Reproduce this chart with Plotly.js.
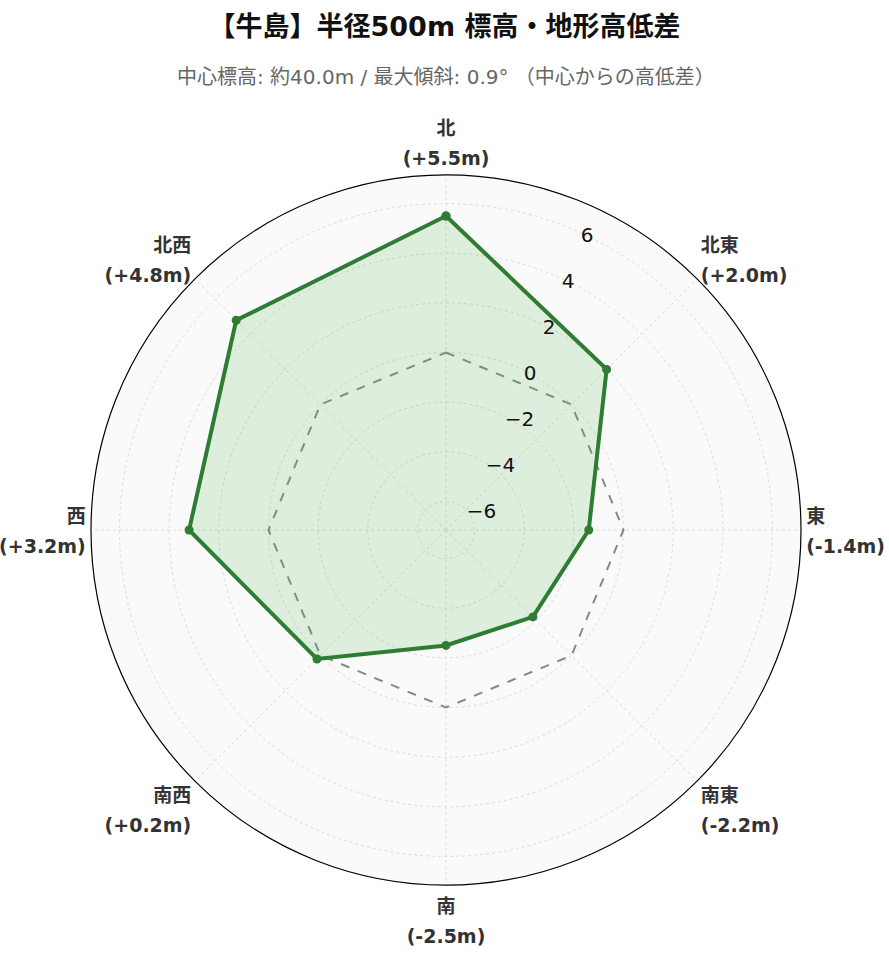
<!DOCTYPE html>
<html><head><meta charset="utf-8">
<script src="https://cdn.plot.ly/plotly-3.0.1.min.js"></script>
<style>body{margin:0;background:#fff}</style>
</head><body>
<div id="chart" style="width:889px;height:962px"></div>
<script>
const directions = ["北","北東","東","南東","南","南西","西","北西"];
const heightDiffs = [5.5, 2.0, -1.4, -2.2, -2.5, 0.2, 3.2, 4.8];
const diffLabels = ["+5.5m","+2.0m","-1.4m","-2.2m","-2.5m","+0.2m","+3.2m","+4.8m"];
const referenceLevel = [0,0,0,0,0,0,0,0];
const radialTicks = [-6,-4,-2,0,2,4,6];
const radialRange = [-7.15, 7.15];

const FONT = "DejaVu Sans, Noto Sans CJK JP, sans-serif";
const closedDirs = directions.concat([directions[0]]);
const S = "<span style='font-size:19px'>";
const tickText = directions.map((d,i)=>S+"<b>"+d+"</b></span><br>"+S+"<b>("+diffLabels[i]+")</b></span>");

const traces = [
  {
    type:"scatterpolar",
    r: referenceLevel.concat([referenceLevel[0]]),
    theta: closedDirs,
    mode:"lines",
    line:{color:"#888888", width:2, dash:"dash"},
    hoverinfo:"skip",
    showlegend:false
  },
  {
    type:"scatterpolar",
    r: heightDiffs.concat([heightDiffs[0]]),
    theta: closedDirs,
    mode:"lines+markers",
    fill:"toself",
    fillcolor:"rgba(76,175,80,0.17)",
    line:{color:"#2e7d32", width:4},
    marker:{color:"#2e7d32", size:9},
    showlegend:false
  }
];

const layout = {
  width:889, height:962,
  paper_bgcolor:"#ffffff",
  font:{family:FONT, color:"#333"},
  margin:{l:83, r:80, t:175, b:77},
  title:{text:"<b>【牛島】半径500m 標高・地形高低差</b>", x:0.5, xanchor:"center", y:0.972, yanchor:"middle",
         font:{size:27, color:"#111", family:FONT}},
  annotations:[{
    text:"中心標高: 約40.0m / 最大傾斜: 0.9° （中心からの高低差）",
    xref:"paper", yref:"paper", x:0.5, y:1, xanchor:"center", yanchor:"middle",
    yshift:98, showarrow:false,
    font:{size:20, color:"#666", family:FONT}
  }],
  polar:{
    bgcolor:"#fafafa",
    angularaxis:{
      direction:"clockwise", rotation:90,
      categoryorder:"array", categoryarray:directions,
      tickmode:"array", tickvals:directions, ticktext:tickText,
      tickfont:{size:23, color:"#333", family:FONT},
      showline:true, linecolor:"#000", linewidth:1.2,
      gridcolor:"#dcdcdc", griddash:"dot", gridwidth:1.2,
      ticks:""
    },
    radialaxis:{
      range:radialRange, angle:67.5,
      tickmode:"array", tickvals:radialTicks,
      ticksuffix:"<br> ",
      tickfont:{size:20, color:"#111", family:"DejaVu Sans, sans-serif"},
      showline:false, ticks:"",
      gridcolor:"#dcdcdc", griddash:"dot", gridwidth:1.2,
      tickangle:67.5
    }
  }
};
Plotly.newPlot("chart", traces, layout, {displayModeBar:false});
</script>
</body></html>
